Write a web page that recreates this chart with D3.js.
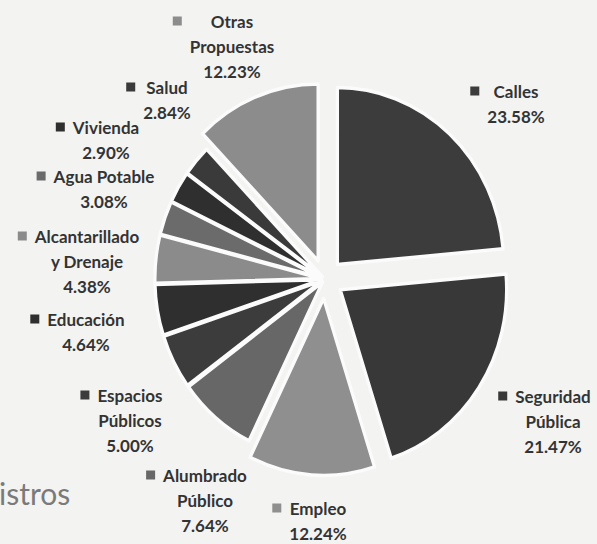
<!DOCTYPE html>
<html>
<head>
<meta charset="utf-8">
<script src="https://cdn.jsdelivr.net/npm/d3@7"></script>
<style>
  html, body { margin: 0; padding: 0; background: #f3f3f2; }
  svg { display: block; }
</style>
</head>
<body>
<svg id="chart" width="597" height="544"></svg>
<script>
// ---- data ----
const categories = ["Calles", "Seguridad Pública", "Empleo", "Alumbrado Público", "Espacios Públicos",
  "Educación", "Alcantarillado y Drenaje", "Agua Potable", "Vivienda", "Salud", "Otras Propuestas"];
const values = [23.58, 21.47, 12.24, 7.64, 5.00, 4.64, 4.38, 3.08, 2.90, 2.84, 12.23];
const valueLabels = ["23.58%", "21.47%", "12.24%", "7.64%", "5.00%", "4.64%", "4.38%", "3.08%", "2.90%", "2.84%", "12.23%"];
const labelLines = [["Calles"], ["Seguridad", "Pública"], ["Empleo"], ["Alumbrado", "Público"], ["Espacios", "Públicos"],
  ["Educación"], ["Alcantarillado", "y Drenaje"], ["Agua Potable"], ["Vivienda"], ["Salud"], ["Otras", "Propuestas"]];
const titleFragment = "istros";

// ---- styles / layout ----
const colors = ["#3c3c3c", "#383838", "#8f8f8f", "#676767", "#3c3c3c", "#2f2f2f", "#8b8b8b", "#6b6b6b", "#2f2f2f", "#3a3a3a", "#8c8c8c"];
const labelAnchors = [[516, 92], [553, 397], [318, 509], [205, 476], [130, 396], [86, 320], [87, 237], [104, 177], [106, 128], [167, 88], [232, 22]];
const cx = 325, cy = 279, R = 177, xScale = 0.94, explodeBig = 19.5, explodeSmall = 4, lineH = 25;

const svg = d3.select("#chart");

const pie = d3.pie().sort(null).value(d => d.v);
const data = categories.map((c, i) => ({ c, v: values[i], i }));
const arcs = pie(data);
const arc = d3.arc().innerRadius(0).outerRadius(R);

const g = svg.append("g").attr("transform", `translate(${cx},${cy}) scale(${xScale},1)`);
g.selectAll("path").data(arcs).enter().append("path")
  .attr("d", arc)
  .attr("fill", d => colors[d.data.i])
  .attr("stroke", "#fbfbfb")
  .attr("stroke-width", 3.5)
  .attr("stroke-linejoin", "round")
  .attr("transform", d => {
    const e = d.data.v > 10 ? explodeBig : explodeSmall;
    const a = (d.startAngle + d.endAngle) / 2;
    return `translate(${e * Math.sin(a)},${-e * Math.cos(a)})`;
  });

// labels
const font = "Lato, 'Open Sans', sans-serif";
categories.forEach((c, i) => {
  const [x, y] = labelAnchors[i];
  const lines = labelLines[i].concat([valueLabels[i]]);
  const lg = svg.append("g");
  let maxW = 0;
  lines.forEach((t, k) => {
    const tx = lg.append("text")
      .attr("x", x).attr("y", y + k * lineH)
      .attr("dy", "0.35em")
      .attr("text-anchor", "middle")
      .attr("font-family", font)
      .attr("font-weight", "bold")
      .attr("font-size", 17)
      .attr("fill", "#333333")
      .text(t);
    maxW = Math.max(maxW, tx.node().getComputedTextLength());
  });
  const s = 9;
  lg.append("rect")
    .attr("x", x - maxW / 2 - 8 - s)
    .attr("y", y - s / 2 - 1)
    .attr("width", s).attr("height", s)
    .attr("fill", colors[i]);
});

svg.append("text")
  .attr("x", -1).attr("y", 505)
  .attr("font-family", font)
  .attr("font-size", 30)
  .attr("fill", "#7a7a7a")
  .text(titleFragment);
</script>
</body>
</html>
